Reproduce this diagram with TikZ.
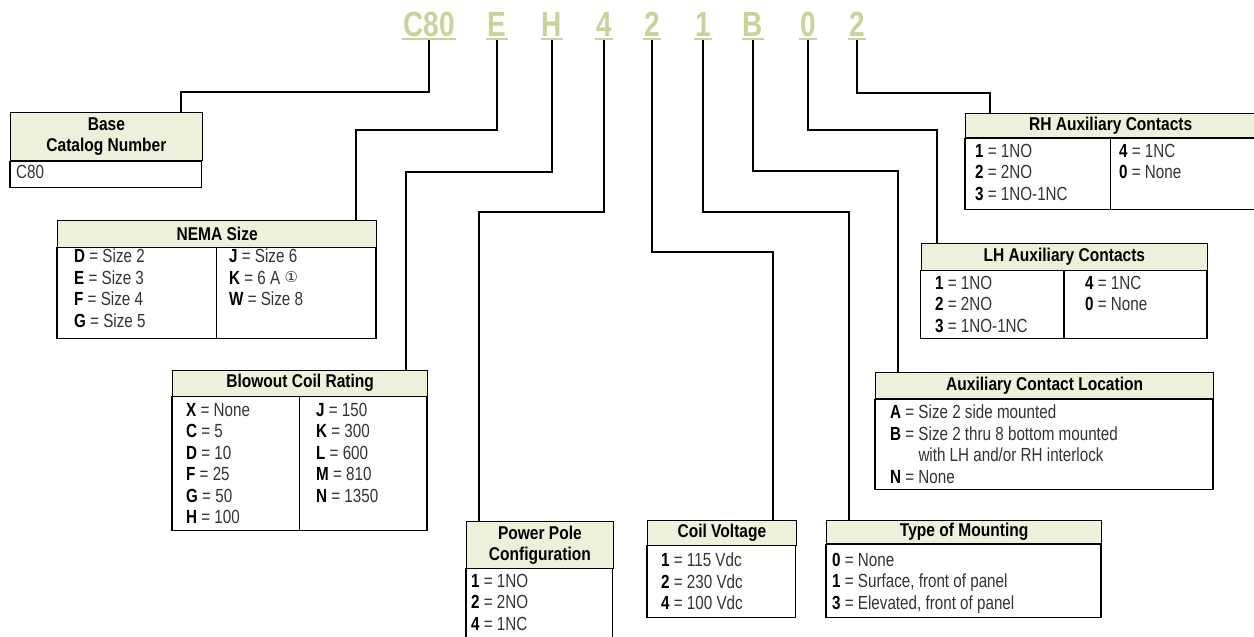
\documentclass[tikz,border=0pt]{standalone}
\usepackage{fontspec}
\setmainfont{Liberation Sans}
\newfontfamily\bodyfont{Liberation Sans}[FakeStretch=0.8]
\newfontfamily\hdrfont{Liberation Sans}[FakeStretch=0.84]
\newfontfamily\codefont{Liberation Sans}[FakeStretch=0.8]
\newfontfamily\symfont{DejaVu Sans}

\definecolor{hdrfill}{RGB}{238,240,220}
\definecolor{codegreen}{RGB}{198,212,154}

\newcommand\kv[2]{\textcolor{black}{\textbf{#1}} = #2}

\tikzset{
  hdr/.style={draw, line width=1.3pt, fill=hdrfill, anchor=north west,
    inner sep=0pt, align=center, font=\hdrfont\bfseries\fontsize{18.5}{21}\selectfont},
  entries/.style={anchor=north west, inner sep=0pt, align=left, text=black!80,
    font=\bodyfont\fontsize{19}{21.5}\selectfont},
  link/.style={line width=1.3pt},
  codechar/.style={anchor=base, inner xsep=1pt, inner ysep=0pt, text depth=4pt,
    text=codegreen, font=\codefont\bfseries\fontsize{35}{35}\selectfont},
}

\begin{document}
\begin{tikzpicture}[x=1pt,y=-1pt]
    \useasboundingbox (0,0) rectangle (1254,637);

    % catalog number
    \foreach \n/\t/\x in {c80/C80/429, cE/E/497, cH/H/552, cP/4/604, cV/2/652,
                          cM/1/703, cL/B/753, cX/0/808, cY/2/857} {
      \node[codechar] (\n) at (\x,36) {\t};
      \draw[codegreen,line width=2pt] ([yshift=1pt]\n.south west) -- ([yshift=1pt]\n.south east);
    }

    % boxes
    \node[hdr, minimum width=191.5, minimum height=48] (base) at (10,112) {Base\\Catalog Number};
    \draw[link] (base.south west) rectangle ++(191.5,26);
    \node[entries] at (16,165) {C80};

    \node[hdr, minimum width=319, minimum height=27] (nema) at (57,219.5) {NEMA Size};
    \draw[link] (nema.south west) rectangle ++(319,90.5);
    \draw[link] (nema.south west) ++(159.5,0) -- ++(0,90.5);
    \node[entries] at (74,249) {\kv{D}{Size 2}\\\kv{E}{Size 3}\\\kv{F}{Size 4}\\\kv{G}{Size 5}};
    \node[entries] at (229,249) {\kv{J}{Size 6}\\\kv{K}{6 A \raisebox{2pt}{\symfont\fontsize{15}{15}\selectfont ①}}\\\kv{W}{Size 8}};

    \node[hdr, minimum width=255, minimum height=26] (blow) at (172,369.5) {Blowout Coil Rating};
    \draw[link] (blow.south west) rectangle ++(255,134);
    \draw[link] (blow.south west) ++(127.5,0) -- ++(0,134);
    \node[entries] at (186,403) {\kv{X}{None}\\\kv{C}{5}\\\kv{D}{10}\\\kv{F}{25}\\\kv{G}{50}\\\kv{H}{100}};
    \node[entries] at (316,403) {\kv{J}{150}\\\kv{K}{300}\\\kv{L}{600}\\\kv{M}{810}\\\kv{N}{1350}};

    \node[hdr, minimum width=146.5, minimum height=46.5] (pole) at (466,521) {Power Pole\\Configuration};
    \draw[link] (pole.south west) rectangle ++(146.5,74);
    \node[entries] at (471,574) {\kv{1}{1NO}\\\kv{2}{2NO}\\\kv{4}{1NC}};

    \node[hdr, minimum width=148.5, minimum height=24.5] (coil) at (647,520) {Coil Voltage};
    \draw[link] (coil.south west) rectangle ++(148.5,71.5);
    \node[entries] at (661,553) {\kv{1}{115 Vdc}\\\kv{2}{230 Vdc}\\\kv{4}{100 Vdc}};

    \node[hdr, minimum width=275, minimum height=23] (mount) at (826,520) {Type of Mounting};
    \draw[link] (mount.south west) rectangle ++(275,73);
    \node[entries] at (832,553) {\kv{0}{None}\\\kv{1}{Surface, front of panel}\\\kv{3}{Elevated, front of panel}};

    \node[hdr, minimum width=338, minimum height=26.5] (loc) at (875,371.5) {Auxiliary Contact Location};
    \draw[link] (loc.south west) rectangle ++(338,90.5);
    \node[entries] at (890,405) {\kv{A}{Size 2 side mounted}\\\kv{B}{Size 2 thru 8 bottom mounted}\\
      \phantom{\textbf{B} = }with LH and/or RH interlock\\\kv{N}{None}};

    \node[hdr, minimum width=286.5, minimum height=27] (lhaux) at (920.5,242.5) {LH Auxiliary Contacts};
    \draw[link] (lhaux.south west) rectangle ++(286.5,68);
    \draw[link] (lhaux.south west) ++(143.5,0) -- ++(0,68);
    \node[entries] at (935,276) {\kv{1}{1NO}\\\kv{2}{2NO}\\\kv{3}{1NO-1NC}};
    \node[entries] at (1085,276) {\kv{4}{1NC}\\\kv{0}{None}};

    \node[hdr, minimum width=290, minimum height=24.5] (rhaux) at (965,112.5) {RH Auxiliary Contacts};
    \draw[link] (rhaux.south west) rectangle ++(290,71.5);
    \draw[link] (rhaux.south west) ++(145.5,0) -- ++(0,71.5);
    \node[entries] at (975,144) {\kv{1}{1NO}\\\kv{2}{2NO}\\\kv{3}{1NO-1NC}};
    \node[entries] at (1119,144) {\kv{4}{1NC}\\\kv{0}{None}};

    % connectors
    \coordinate (k1) at (181,92);
    \coordinate (k2) at (356,130);
    \coordinate (k3) at (406,172);
    \coordinate (k4) at (479,212);
    \coordinate (k5) at (773,252);
    \coordinate (k6) at (849,212);
    \coordinate (k7) at (898,171);
    \coordinate (k8) at (937,130);
    \coordinate (k9) at (990,93);
    \draw[link] (c80.south) |- (k1) -- (k1 |- base.north);
    \draw[link] (cE.south) |- (k2) -- (k2 |- nema.north);
    \draw[link] (cH.south) |- (k3) -- (k3 |- blow.north);
    \draw[link] (cP.south) |- (k4) -- (k4 |- pole.north);
    \draw[link] (cV.south) |- (k5) -- (k5 |- coil.north);
    \draw[link] (cM.south) |- (k6) -- (k6 |- mount.north);
    \draw[link] (cL.south) |- (k7) -- (k7 |- loc.north);
    \draw[link] (cX.south) |- (k8) -- (k8 |- lhaux.north);
    \draw[link] (cY.south) |- (k9) -- (k9 |- rhaux.north);
\end{tikzpicture}
\end{document}
